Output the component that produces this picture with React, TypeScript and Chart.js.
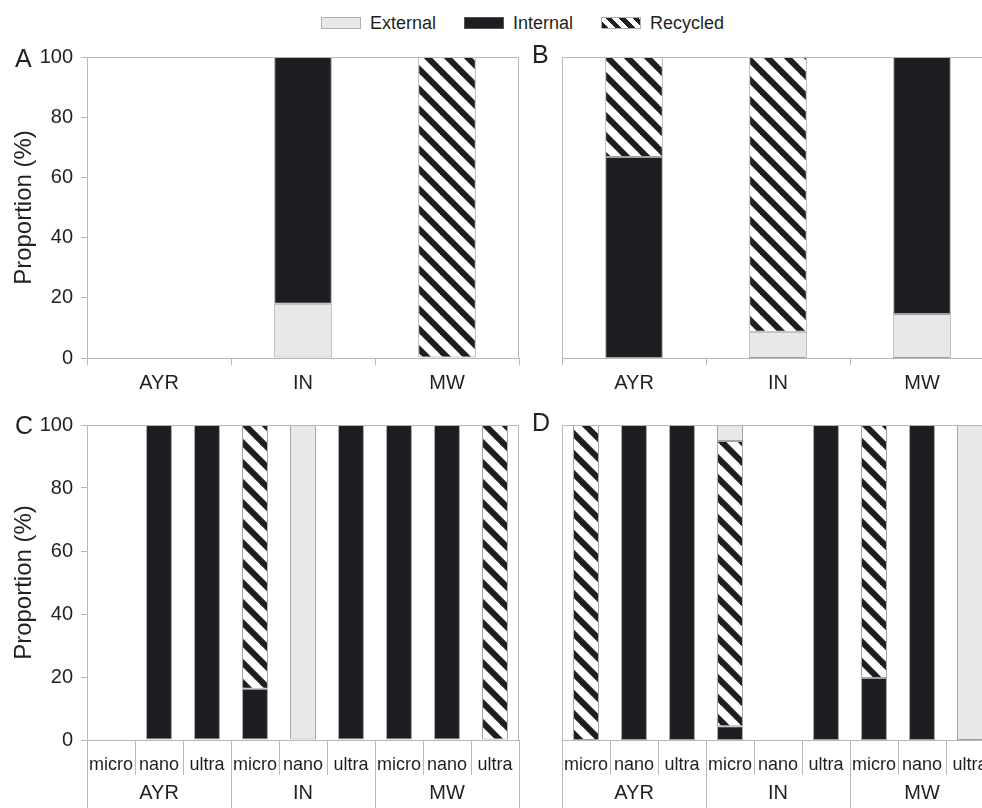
import React, { useEffect, useRef } from 'react';
import { Chart, registerables } from 'chart.js';

Chart.register(...registerables);

const FONT = "'Liberation Sans', Arial, Helvetica, sans-serif";
const TEXT = '#231f20';
const AXIS = '#b8b8b8';
const BAR_BORDER = '#a0a0a0';
const EXTERNAL_FILL = '#e7e8ea';
const INTERNAL_FILL = '#1d1e21';

// ---- data ----
const SERIES = ['External', 'Internal', 'Recycled'];
const SITES = ['AYR', 'IN', 'MW'];
const SIZES = ['micro', 'nano', 'ultra'];
const Y_TICKS = [0, 20, 40, 60, 80, 100];
const Y_TITLE = 'Proportion (%)';

// Panel A (by site)
const A_EXTERNAL = [null, 18, null];
const A_INTERNAL = [null, 82, null];
const A_RECYCLED = [null, null, 100];

// Panel B (by site)
const B_EXTERNAL = [null, 8.7, 14.6];
const B_INTERNAL = [66.8, null, 85.4];
const B_RECYCLED = [33.2, 91.3, null];

// Panel C (site x size: AYR micro/nano/ultra, IN ..., MW ...)
const C_EXTERNAL = [null, null, null, null, 100, null, null, null, null];
const C_INTERNAL = [null, 100, 100, 16.3, null, 100, 100, 100, null];
const C_RECYCLED = [null, null, null, 83.7, null, null, null, null, 100];

// Panel D (site x size)
const D_INTERNAL = [null, 100, 100, 4.4, null, 100, 19.7, 100, null];
const D_RECYCLED = [100, null, null, 90.5, null, null, 80.3, null, null];
const D_EXTERNAL = [null, null, null, 5.1, null, null, null, null, 100];

const SUB_LABELS = SITES.flatMap(() => SIZES);

function makeStripes(): CanvasPattern {
  const s = 20;
  const c = document.createElement('canvas');
  c.width = s;
  c.height = s;
  const g = c.getContext('2d')!;
  g.fillStyle = '#ffffff';
  g.fillRect(0, 0, s, s);
  g.strokeStyle = INTERNAL_FILL;
  g.lineWidth = 6;
  for (const o of [-s, 0, s]) {
    g.beginPath();
    g.moveTo(o - 4, -4);
    g.lineTo(o + s + 4, s + 4);
    g.stroke();
  }
  return g.createPattern(c, 'repeat')!;
}

const framePlugin = {
  id: 'frame',
  afterDatasetsDraw(chart: any) {
    const { ctx, chartArea } = chart;
    const l = Math.round(chartArea.left) + 0.5;
    const t = Math.round(chartArea.top) + 0.5;
    const r = Math.round(chartArea.right) - 0.5;
    const b = Math.round(chartArea.bottom);
    ctx.save();
    ctx.strokeStyle = AXIS;
    ctx.lineWidth = 1;
    ctx.beginPath();
    ctx.moveTo(l, t);
    ctx.lineTo(r, t);
    ctx.lineTo(r, b);
    ctx.stroke();
    ctx.restore();
  },
};

type Series = { label: string; data: (number | null)[] };

type PanelProps = {
  left: number;
  top: number;
  width: number;
  height: number;
  padTop: number;
  padRight: number;
  yWidth: number;
  showY: boolean;
  grouped: boolean;
  labels: string[];
  series: Series[];
  barPct: number;
};

function Panel(p: PanelProps) {
  const ref = useRef<HTMLCanvasElement | null>(null);
  useEffect(() => {
    if (!ref.current) return;
    const stripes = makeStripes();
    const fillFor = (name: string): any =>
      name === 'External' ? EXTERNAL_FILL : name === 'Internal' ? INTERNAL_FILL : stripes;
    const datasets = p.series.map((s) => ({
      label: s.label,
      data: s.data,
      backgroundColor: fillFor(s.label),
      borderColor: BAR_BORDER,
      borderWidth: 1,
      borderSkipped: false,
      barPercentage: p.barPct,
      categoryPercentage: 1,
      xAxisID: 'x',
      yAxisID: 'y',
    }));
    const scales: any = {
      x: {
        type: 'category',
        position: 'bottom',
        stacked: true,
        offset: true,
        weight: 0,
        grid: {
          offset: true,
          drawOnChartArea: false,
          color: AXIS,
          lineWidth: 1,
          tickLength: p.grouped ? 35 : 7,
        },
        border: { color: AXIS, width: 1 },
        ticks: {
          font: { family: FONT, size: p.grouped ? 18 : 20 },
          color: TEXT,
          padding: p.grouped ? -21 : 6,
          autoSkip: false,
          maxRotation: 0,
          minRotation: 0,
        },
        afterFit: (s: any) => {
          s.height = p.grouped ? 35 : 44;
        },
      },
      y: {
        type: 'linear',
        position: 'left',
        stacked: true,
        min: 0,
        max: 100,
        afterBuildTicks: (s: any) => {
          s.ticks = Y_TICKS.map((v) => ({ value: v }));
        },
        grid: { display: p.showY, drawOnChartArea: false, color: AXIS, tickLength: 6 },
        border: { color: AXIS, width: 1 },
        ticks: {
          display: p.showY,
          font: { family: FONT, size: 20 },
          color: TEXT,
          padding: 8,
        },
        title: {
          display: p.showY,
          text: Y_TITLE,
          font: { family: FONT, size: 24 },
          color: TEXT,
          padding: { top: 10, bottom: 0 },
        },
        afterFit: (s: any) => {
          s.width = p.yWidth;
        },
      },
    };
    if (p.grouped) {
      scales.x2 = {
        type: 'category',
        axis: 'x',
        labels: SITES,
        position: 'bottom',
        offset: true,
        weight: 1,
        grid: { offset: true, drawOnChartArea: false, color: AXIS, lineWidth: 1, tickLength: 40 },
        border: { display: false },
        ticks: {
          font: { family: FONT, size: 20 },
          color: TEXT,
          padding: -34,
          autoSkip: false,
          maxRotation: 0,
          minRotation: 0,
        },
        afterFit: (s: any) => {
          s.height = 33;
        },
      };
    }
    const chart = new Chart(ref.current, {
      type: 'bar',
      data: { labels: p.labels, datasets: datasets as any },
      options: {
        responsive: false,
        animation: false,
        layout: { padding: { top: p.padTop, right: p.padRight, left: 0, bottom: 0 } },
        plugins: { legend: { display: false }, tooltip: { enabled: false } },
        scales,
      } as any,
      plugins: [framePlugin],
    });
    return () => chart.destroy();
  }, []);
  return (
    <div style={{ position: 'absolute', left: p.left, top: p.top, width: p.width, height: p.height }}>
      <canvas ref={ref} width={p.width} height={p.height} style={{ display: 'block' }} />
    </div>
  );
}

function Letter({ text, left, capTop }: { text: string; left: number; capTop: number }) {
  return (
    <div
      style={{
        position: 'absolute',
        left,
        top: capTop - 3,
        fontSize: 25,
        lineHeight: '25px',
        fontFamily: FONT,
        color: TEXT,
      }}
    >
      {text}
    </div>
  );
}

function Legend() {
  const swatch = (name: string): React.CSSProperties => {
    const base: React.CSSProperties = { width: 40, height: 12, boxSizing: 'border-box' };
    if (name === 'External') return { ...base, background: EXTERNAL_FILL, border: '1px solid #b0b0b0' };
    if (name === 'Internal') return { ...base, background: INTERNAL_FILL, border: '1px solid #555' };
    return {
      ...base,
      background: `repeating-linear-gradient(45deg, ${INTERNAL_FILL} 0 4.5px, #fff 4.5px 9.5px)`,
      border: '1px solid #b0b0b0',
    };
  };
  return (
    <div
      style={{
        position: 'absolute',
        left: 321,
        top: 11,
        height: 24,
        display: 'flex',
        alignItems: 'center',
        gap: 28,
        fontFamily: FONT,
        fontSize: 18,
        color: TEXT,
      }}
    >
      {SERIES.map((s) => (
        <div key={s} style={{ display: 'flex', alignItems: 'center', gap: 9 }}>
          <div style={swatch(s)} />
          <span style={{ lineHeight: '18px' }}>{s}</span>
        </div>
      ))}
    </div>
  );
}

export default function App() {
  return (
    <div
      style={{
        position: 'fixed',
        left: 0,
        top: 0,
        width: 982,
        height: 808,
        overflow: 'hidden',
        background: '#fff',
      }}
    >
      <Legend />
      <Panel
        left={0}
        top={30}
        width={540}
        height={372}
        padTop={27}
        padRight={21}
        yWidth={87}
        showY={true}
        grouped={false}
        labels={SITES}
        barPct={0.4}
        series={[
          { label: 'External', data: A_EXTERNAL },
          { label: 'Internal', data: A_INTERNAL },
          { label: 'Recycled', data: A_RECYCLED },
        ]}
      />
      <Panel
        left={540}
        top={30}
        width={460}
        height={372}
        padTop={27}
        padRight={6}
        yWidth={22}
        showY={false}
        grouped={false}
        labels={SITES}
        barPct={0.4}
        series={[
          { label: 'External', data: B_EXTERNAL },
          { label: 'Internal', data: B_INTERNAL },
          { label: 'Recycled', data: B_RECYCLED },
        ]}
      />
      <Panel
        left={0}
        top={400}
        width={540}
        height={408}
        padTop={25}
        padRight={21}
        yWidth={87}
        showY={true}
        grouped={true}
        labels={SUB_LABELS}
        barPct={0.54}
        series={[
          { label: 'External', data: C_EXTERNAL },
          { label: 'Internal', data: C_INTERNAL },
          { label: 'Recycled', data: C_RECYCLED },
        ]}
      />
      <Panel
        left={540}
        top={400}
        width={460}
        height={408}
        padTop={25}
        padRight={6}
        yWidth={22}
        showY={false}
        grouped={true}
        labels={SUB_LABELS}
        barPct={0.54}
        series={[
          { label: 'Internal', data: D_INTERNAL },
          { label: 'Recycled', data: D_RECYCLED },
          { label: 'External', data: D_EXTERNAL },
        ]}
      />
      <Letter text="A" left={15} capTop={49} />
      <Letter text="B" left={532} capTop={45} />
      <Letter text="C" left={15} capTop={416} />
      <Letter text="D" left={532} capTop={413} />
    </div>
  );
}
